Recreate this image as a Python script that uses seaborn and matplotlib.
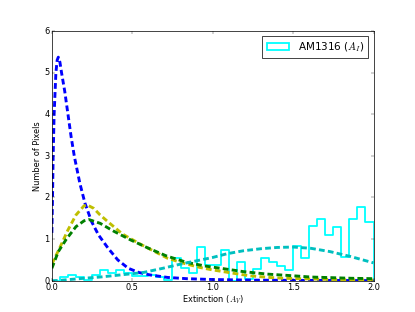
import numpy as np
import pandas as pd
import seaborn as sns
import matplotlib
matplotlib.use('Agg')
import matplotlib.pyplot as plt
from matplotlib.patches import Patch

# histogram of AM1316 (A_I), bins of 0.05 from 0 to 2 (last zero bin closes the outline at 2.0)
bin_edges = [round(0.05 * i, 2) for i in range(42)]
bin_counts = [0.0, 0.08, 0.15, 0.08, 0.03, 0.15, 0.26, 0.18, 0.26, 0.18,
              0.12, 0.12, 0.14, 0.10, 0.03, 0.55, 0.30, 0.18, 0.82, 0.37,
              0.37, 0.74, 0.0, 0.46, 0.05, 0.28, 0.55, 0.45, 0.36, 0.26,
              0.84, 0.55, 1.32, 1.48, 1.10, 1.30, 0.58, 1.48, 1.76, 1.40,
              0.0]

# model curves
blue_x = [0.0, 0.004, 0.008, 0.014, 0.025, 0.033, 0.04, 0.05, 0.06, 0.08, 0.10, 0.12,
          0.14, 0.174, 0.206, 0.247, 0.29, 0.35, 0.41, 0.475, 0.54, 0.61, 0.72, 0.84,
          1.0, 1.25, 1.5, 2.0]
blue_y = [1.15, 2.0, 3.0, 4.0, 5.0, 5.3, 5.37, 5.25, 5.0, 4.55, 4.0, 3.45,
          2.98, 2.34, 1.86, 1.42, 1.1, 0.78, 0.5, 0.3, 0.2, 0.14, 0.08, 0.05,
          0.03, 0.015, 0.01, 0.005]

yellow_x = [0.0, 0.05, 0.1, 0.15, 0.2, 0.22, 0.26, 0.3, 0.36, 0.44, 0.55, 0.65, 0.72,
            0.82, 0.92, 1.0, 1.13, 1.23, 1.35, 1.44, 1.64, 1.8, 2.0]
yellow_y = [0.4, 0.8, 1.22, 1.58, 1.8, 1.82, 1.74, 1.58, 1.38, 1.12, 0.88, 0.68, 0.54,
            0.42, 0.32, 0.26, 0.18, 0.12, 0.08, 0.06, 0.04, 0.025, 0.015]

green_x = [0.0, 0.04, 0.09, 0.15, 0.2, 0.23, 0.3, 0.38, 0.49, 0.59, 0.71, 0.84, 0.96,
           1.05, 1.19, 1.34, 1.5, 1.61, 1.86, 2.0]
green_y = [0.3, 0.7, 1.0, 1.3, 1.44, 1.47, 1.38, 1.2, 0.98, 0.8, 0.6, 0.44, 0.35,
           0.3, 0.22, 0.16, 0.12, 0.09, 0.06, 0.05]

teal_x = [0.0, 0.05, 0.11, 0.2, 0.3, 0.4, 0.5, 0.57, 0.69, 0.8, 0.9, 1.0, 1.09, 1.19,
          1.3, 1.4, 1.5, 1.61, 1.73, 1.86, 2.0]
teal_y = [0.0, 0.01, 0.03, 0.06, 0.09, 0.13, 0.17, 0.2, 0.3, 0.4, 0.48, 0.56, 0.65, 0.72,
          0.77, 0.8, 0.81, 0.78, 0.7, 0.58, 0.43]

plt.style.use('classic')
plt.rcParams['figure.facecolor'] = 'white'
plt.rcParams['savefig.facecolor'] = 'white'
plt.rcParams['lines.scale_dashes'] = False
plt.rcParams['font.family'] = ['DejaVu Sans']
plt.rcParams['font.size'] = 11.5
plt.rcParams['xtick.major.pad'] = 3
plt.rcParams['ytick.major.pad'] = 3

fig, ax = plt.subplots(figsize=(8, 6.02), dpi=51.875)

hist_df = pd.DataFrame({
    'A': [(bin_edges[i] + bin_edges[i + 1]) / 2 for i in range(len(bin_counts))],
    'n': bin_counts,
})
sns.histplot(data=hist_df, x='A', weights='n', bins=bin_edges, element='step',
             fill=False, color='cyan', lw=2.5, ax=ax)

dash = (0, (8, 4.5))
sns.lineplot(x=blue_x, y=blue_y, color='b', lw=4, linestyle=dash, ax=ax)
sns.lineplot(x=yellow_x, y=yellow_y, color='y', lw=4, linestyle=dash, ax=ax)
sns.lineplot(x=green_x, y=green_y, color='g', lw=4, linestyle=dash, ax=ax)
sns.lineplot(x=teal_x, y=teal_y, color='c', lw=4, linestyle=dash, ax=ax)

ax.set_xlim(0, 2)
ax.set_ylim(0, 6)
ax.set_xticks([0.0, 0.5, 1.0, 1.5, 2.0])
ax.set_yticks(range(7))
ax.set_xlabel('Extinction ($A_V$)', labelpad=2)
ax.set_ylabel('Number of Pixels', labelpad=3)

handle = Patch(facecolor='none', edgecolor='cyan', lw=2.5)
ax.legend([handle], ['AM1316 ($A_I$)'], loc='upper right', fontsize=14.4,
          handlelength=2.2)

fig.savefig('out.png', dpi=51.875)
